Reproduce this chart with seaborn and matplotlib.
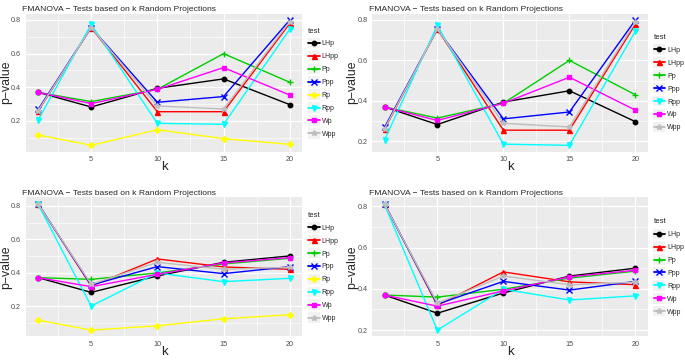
import pandas as pd
import matplotlib
matplotlib.use("Agg")
import matplotlib.pyplot as plt
import seaborn as sns
from matplotlib.ticker import MultipleLocator
from matplotlib.patches import Rectangle

# k values (number of random projections)
k_values = [1, 5, 10, 15, 20]

tests = ["LHp", "LHpp", "Pp", "Ppp", "Rp", "Rpp", "Wp", "Wpp"]

# scenario shown in the top row
top_pvalues = {
    "LHp":  [0.370, 0.283, 0.394, 0.450, 0.297],
    "LHpp": [0.259, 0.755, 0.255, 0.255, 0.780],
    "Pp":   [0.370, 0.315, 0.388, 0.600, 0.430],
    "Ppp":  [0.269, 0.755, 0.311, 0.345, 0.800],
    "Rp":   [0.117, 0.055, 0.148, 0.095, 0.061],
    "Rpp":  [0.206, 0.774, 0.186, 0.180, 0.745],
    "Wp":   [0.370, 0.303, 0.388, 0.517, 0.354],
    "Wpp":  [0.262, 0.755, 0.289, 0.271, 0.790],
}

# scenario shown in the bottom row
bottom_pvalues = {
    "LHp":  [0.370, 0.282, 0.380, 0.462, 0.500],
    "LHpp": [0.812, 0.320, 0.482, 0.434, 0.420],
    "Pp":   [0.370, 0.360, 0.398, 0.452, 0.486],
    "Ppp":  [0.810, 0.326, 0.436, 0.394, 0.436],
    "Rp":   [0.116, 0.056, 0.082, 0.124, 0.148],
    "Rpp":  [0.808, 0.200, 0.398, 0.346, 0.366],
    "Wp":   [0.370, 0.316, 0.390, 0.458, 0.490],
    "Wpp":  [0.810, 0.330, 0.462, 0.420, 0.432],
}

colors = {"LHp": "black", "LHpp": "#FF0000", "Pp": "#00CD00", "Ppp": "#0000FF",
          "Rp": "#FFFF00", "Rpp": "#00FFFF", "Wp": "#FF00FF", "Wpp": "#BEBEBE"}
markers = {"LHp": "o", "LHpp": "^", "Pp": "+", "Ppp": "x",
           "Rp": "D", "Rpp": "v", "Wp": "s", "Wpp": "*"}
msizes = {"LHp": 3.2, "LHpp": 3.6, "Pp": 5, "Ppp": 4, "Rp": 3, "Rpp": 3.6, "Wp": 3.2, "Wpp": 4.2}


def to_long(pvals, keep):
    rows = []
    for t in keep:
        for k, p in zip(k_values, pvals[t]):
            rows.append({"k": k, "pvalue": p, "test": t})
    return pd.DataFrame(rows)


def draw_panel(ax, df, keep):
    ax.set_facecolor("#EBEBEB")
    for t in keep:
        sub = df[df["test"] == t]
        sns.lineplot(data=sub, x="k", y="pvalue", ax=ax, color=colors[t],
                     marker=markers[t], markersize=msizes[t], markeredgewidth=1.0,
                     markeredgecolor=colors[t], linewidth=1.0, label=t)
    ax.margins(x=0.05, y=0.05)
    ax.xaxis.set_minor_locator(MultipleLocator(2.5))
    ax.yaxis.set_major_locator(MultipleLocator(0.2))
    ax.yaxis.set_minor_locator(MultipleLocator(0.1))
    ax.set_xticks([5, 10, 15, 20])
    ax.set_xticklabels(["5", "10", "15", "20"])
    ax.grid(which="major", color="white", linewidth=0.9)
    ax.grid(which="minor", color="white", linewidth=0.45)
    ax.set_axisbelow(True)
    for s in ax.spines.values():
        s.set_visible(False)
    ax.tick_params(which="major", length=2, width=0.6, color="#333333",
                   labelsize=5.2, labelcolor="#4D4D4D", pad=1.2)
    ax.tick_params(which="minor", length=0)
    ax.set_xlabel("k", fontsize=9.5)
    ax.set_ylabel("p\u2212value", fontsize=8.8)
    ax.xaxis.label.set_va("center")
    ax.yaxis.label.set_va("center")
    ax.xaxis.set_label_coords(0.5, -0.115)
    ax.yaxis.set_label_coords(-0.071, 0.5)
    ax.set_title("FMANOVA \u2212 Tests based on k Random Projections",
                 fontsize=6.1, loc="left", x=-0.012, pad=2)
    leg = ax.legend(title="test", loc="center left", bbox_to_anchor=(1.005, 0.5),
                    frameon=False, fontsize=5.0, title_fontsize=5.6,
                    handlelength=1.7, labelspacing=0.85, borderaxespad=0.2,
                    handletextpad=0.3)
    for line in leg.get_lines():
        line.set_linewidth(1.3)
    leg._legend_box.align = "left"
    return leg


sns.set_theme(style="darkgrid")
plt.rcParams["font.family"] = ["Liberation Sans", "DejaVu Sans"]

fig = plt.figure(figsize=(6.85, 3.61), dpi=100)
ax_tl = fig.add_axes([0.0374, 0.580, 0.404, 0.382])
ax_tr = fig.add_axes([0.543, 0.580, 0.403, 0.382])
ax_bl = fig.add_axes([0.0374, 0.068, 0.404, 0.385])
ax_br = fig.add_axes([0.543, 0.068, 0.403, 0.385])

no_rp = [t for t in tests if t != "Rp"]
legends = [
    draw_panel(ax_tl, to_long(top_pvalues, tests), tests),
    draw_panel(ax_tr, to_long(top_pvalues, no_rp), no_rp),
    draw_panel(ax_bl, to_long(bottom_pvalues, tests), tests),
    draw_panel(ax_br, to_long(bottom_pvalues, no_rp), no_rp),
]

# grey key boxes behind legend handles, like ggplot's legend keys
fig.canvas.draw()
for leg in legends:
    for line in leg.get_lines():
        bb = line.get_window_extent()
        cx, cy = (bb.x0 + bb.x1) / 2, (bb.y0 + bb.y1) / 2
        w, h = 12, 10.5
        fig.patches.append(Rectangle((cx - w / 2, cy - h / 2), w, h, transform=None,
                                     facecolor="#F2F2F2", edgecolor="none", zorder=-1))

fig.savefig("out.png", dpi=100, facecolor="white")
